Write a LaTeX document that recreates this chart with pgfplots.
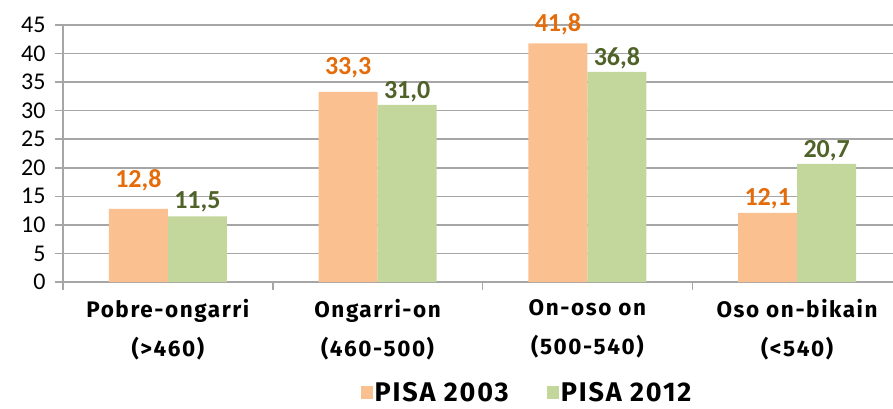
\documentclass[border=0pt]{standalone}
\usepackage{pgfplots}
\pgfplotsset{compat=1.18}
\usepackage{fontspec}
\setmainfont{Carlito}
\newfontfamily\catfont[LetterSpace=7]{Fira Sans}

\definecolor{bar03}{HTML}{FAC090}
\definecolor{bar12}{HTML}{C3D69B}
\definecolor{txt03}{HTML}{E46C0A}
\definecolor{txt12}{HTML}{4F6228}
\definecolor{gridgray}{HTML}{A6A6A6}

% PISA 2003
\pgfplotstableread{
x y off
0 12.8 14
1 33.3 10
2 41.8 5
3 12.1 0
}\pisaA
% PISA 2012
\pgfplotstableread{
x y off
0 11.5 1
1 31.0 -1
2 36.8 -1
3 20.7 -1
}\pisaB

\begin{document}
\begin{tikzpicture}
\begin{axis}[
    scale only axis,
    width=830pt, height=257pt,
    xmin=-0.5, xmax=3.457,
    ymin=0, ymax=45,
    ybar=0pt, bar width=59pt,
    axis x line*=bottom, axis y line*=left,
    axis line style={gridgray, line width=1.5pt, -},
    ytick={0,5,...,45},
    ymajorgrids, grid style={gridgray, line width=1.5pt},
    major tick style={gridgray, line width=1.5pt},
    tick align=outside, major tick length=8pt,
    /pgf/number format/assume math mode=true,
    yticklabel style={font=\fontsize{24}{26}\selectfont, xshift=-6pt},
    xtick={-0.5,0.5,1.5,2.5,3.5}, xticklabels={},
    extra x ticks={0,1,2,3},
    extra x tick labels={{Pobre-ongarri\\(>460)}, {Ongarri-on\\(460-500)}, {On-oso on\\(500-540)}, {Oso on-bikain\\(<540)}},
    extra x tick style={major tick length=0pt, tick label style={align=center, font=\catfont\bfseries\fontsize{22.5}{39}\selectfont, yshift=-14pt}},
    legend style={at={(0.559,-0.43)}, anchor=center, draw=none, fill=none,
        inner sep=1pt, legend columns=2, font=\catfont\bfseries\fontsize{27}{30}\selectfont,
        /tikz/every even column/.append style={column sep=36pt}},
    nodes near coords,
    visualization depends on={\thisrow{off} \as \lbloff},
    every node near coord/.append style={font=\bfseries\fontsize{26}{30}\selectfont,
        /pgf/number format/.cd, fixed, fixed zerofill, precision=1, use comma, /tikz/.cd,
        yshift=\lbloff pt},
]
    \addplot[fill=bar03, draw=none, every node near coord/.append style={text=txt03},
        legend image code/.code={\fill[bar03] (0pt,-6pt) rectangle (12pt,7pt);}]
        table[x=x, y=y] {\pisaA};
    \addplot[fill=bar12, draw=none, every node near coord/.append style={text=txt12},
        legend image code/.code={\fill[bar12] (0pt,-6pt) rectangle (12pt,7pt);}]
        table[x=x, y=y] {\pisaB};
    \legend{PISA 2003, PISA 2012}
\end{axis}
\pgfresetboundingbox
\path[use as bounding box] (current axis.south west) ++(-63pt,-127pt) rectangle ++(893pt,409pt);
\end{tikzpicture}
\end{document}
